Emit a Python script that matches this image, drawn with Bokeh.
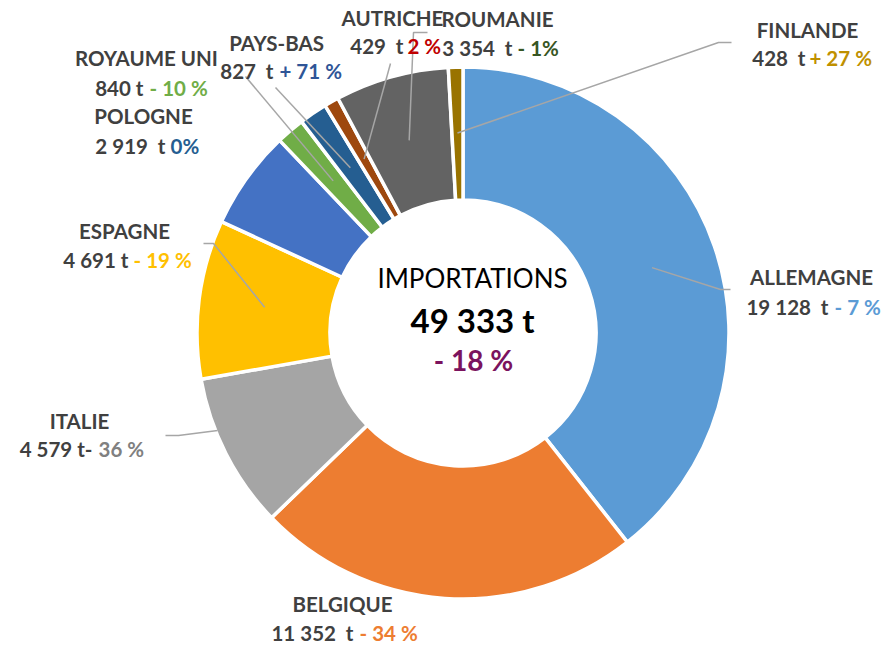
import math
from bokeh.plotting import figure
from bokeh.models import Range1d, ColumnDataSource
from bokeh.core.properties import value
from bokeh.embed import file_html
from bokeh.resources import INLINE

# ---------------- data ----------------
countries = ["ALLEMAGNE", "BELGIQUE", "ITALIE", "ESPAGNE", "POLOGNE",
             "ROYAUME UNI", "PAYS-BAS", "AUTRICHE", "ROUMANIE", "FINLANDE"]
tonnes = [19128, 11352, 4579, 4691, 2919, 840, 827, 429, 3354, 428]
tonnage_labels = ["19 128\u00a0 t", "11 352\u00a0 t", "4 579 t-", "4 691 t", "2 919\u00a0 t",
                  "840 t", "827\u00a0 t", "429\u00a0 t", "3 354\u00a0 t", "428\u00a0 t"]
change_labels = ["- 7 %", "- 34 %", "36 %", "- 19 %", "0%",
                 "- 10 %", "+ 71 %", "2 %", "- 1%", "+ 27 %"]
total_label = "49 333 t"
total_change = "- 18 %"
center_title = "IMPORTATIONS"

# ---------------- styles / layout ----------------
slice_colors = ["#5B9BD5", "#ED7D31", "#A5A5A5", "#FFC000", "#4472C4",
                "#70AD47", "#255E91", "#9E480E", "#636363", "#997300"]
change_colors = ["#5B9BD5", "#ED7D31", "#808080", "#FFC000", "#255E91",
                 "#70AD47", "#2F5597", "#C00000", "#375623", "#BF9000"]

W, H = 884, 645
CX, CY = 462.5, 332.5          # pixel centre of donut
R_OUT, R_IN = 266, 133
R_MID = 200

def Y(py):
    return H - py

# label layout in pixel coords: (name centre x, name y, amount right x, change left x, line-2 y)
label_pos = [
    (811, 276, 828, 834, 306),
    (342, 603, 353, 359, 632),
    (79, 420, 92, 98, 448),
    (124, 230, 128, 133, 259),
    (143, 115, 165, 170, 145),
    (146, 57, 143, 149, 87),
    (276, 42, 273, 279, 70),
    (392, 17, 403, 407, 45),
    (497, 18, 512, 517, 47),
    (807, 29, 805, 809, 57),
]
# leader lines: label-side points in pixels, end radius, fraction within slice
leaders = {
    0: ([(730, 289), (720, 289)], R_MID, 0.5),
    9: ([(731, 42), (718, 42)], R_MID, 0.5),
    8: ([(427, 32), (413, 32)], R_MID, 0.5),
    7: ([(390, 63)], R_MID, 0.5),
    6: ([(275, 87)], R_MID, 0.5),
    5: ([(245, 76)], R_MID, 0.5),
    3: ([(203, 243), (213, 243)], R_MID, 0.5),
    2: ([(165, 435), (178, 435)], 264, 0.656),
}

p = figure(width=W, height=H, x_range=Range1d(0, W), y_range=Range1d(0, H),
           x_axis_location=None, y_axis_location=None, toolbar_location=None,
           output_backend="svg", min_border=0)
p.outline_line_color = None
p.grid.visible = False
p.background_fill_color = "white"

total = float(sum(tonnes))
cum = [0.0]
for t in tonnes:
    cum.append(cum[-1] + t / total)

starts = [math.pi / 2 - 2 * math.pi * c for c in cum[:-1]]
ends = [math.pi / 2 - 2 * math.pi * c for c in cum[1:]]

src = ColumnDataSource(dict(x=[CX] * len(tonnes), y=[Y(CY)] * len(tonnes),
                            start=starts, end=ends, color=slice_colors))
p.annular_wedge(x="x", y="y", inner_radius=R_IN, outer_radius=R_OUT,
                start_angle="start", end_angle="end", direction="clock",
                fill_color="color", line_color="white", line_width=3.5, source=src)

# leader lines
for i, (pts, r, frac) in leaders.items():
    ang = 2 * math.pi * (cum[i] + frac * (cum[i + 1] - cum[i]))  # clockwise from top
    ex = CX + r * math.sin(ang)
    ey = CY - r * math.cos(ang)
    xs = [q[0] for q in pts] + [ex]
    ys = [Y(q[1]) for q in pts] + [Y(ey)]
    p.line(xs, ys, line_color="#A6A6A6", line_width=1.5)

FONT = value("Lato")
LBL = "20.5px"
DARK = "#404040"

for i, name in enumerate(countries):
    nx, ny, ax, cx_, y2 = label_pos[i]
    p.text(x=[nx], y=[Y(ny)], text=[name], text_font=FONT, text_font_size=LBL,
           text_font_style="bold", text_color=DARK, text_align="center",
           text_baseline="middle")
    p.text(x=[ax], y=[Y(y2)], text=[tonnage_labels[i]], text_font=FONT,
           text_font_size=LBL, text_font_style="bold", text_color=DARK,
           text_align="right", text_baseline="middle")
    p.text(x=[cx_], y=[Y(y2)], text=[change_labels[i]], text_font=FONT,
           text_font_size=LBL, text_font_style="bold", text_color=change_colors[i],
           text_align="left", text_baseline="middle")

# centre texts
p.text(x=[472], y=[Y(277)], text=[center_title], text_font=FONT,
       text_font_size="26px", text_color="black", text_align="center",
       text_baseline="middle")
p.text(x=[472], y=[Y(319)], text=[total_label], text_font=FONT,
       text_font_size="33px", text_font_style="bold", text_color="black",
       text_align="center", text_baseline="middle")
p.text(x=[473], y=[Y(359)], text=[total_change], text_font=FONT,
       text_font_size="28px", text_font_style="bold", text_color="#7B135E",
       text_align="center", text_baseline="middle")

open("out.html", "w").write(file_html(p, INLINE))
